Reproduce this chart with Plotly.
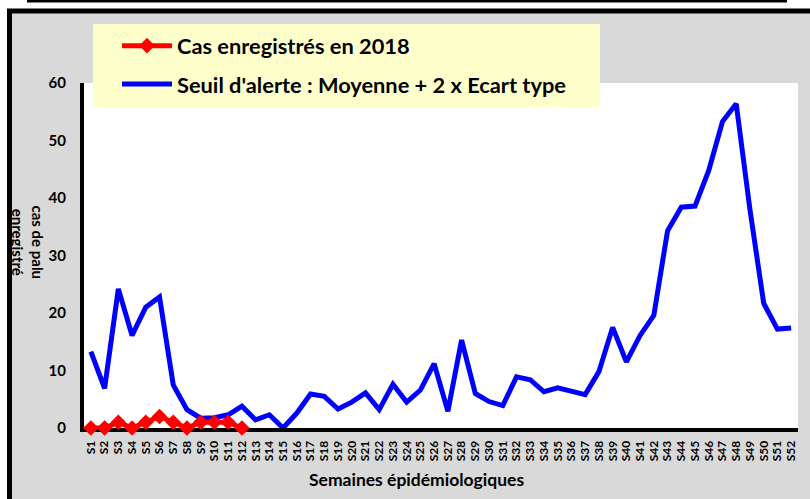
import plotly.graph_objects as go

weeks = [f"S{i}" for i in range(1, 53)]
seuil = [13.3, 6.9, 24.2, 16.1, 21.0, 22.8, 7.5, 3.2, 1.7, 1.8, 2.3, 3.8,
         1.4, 2.3, 0.0, 2.6, 5.9, 5.5, 3.3, 4.5, 6.1, 3.2, 7.6, 4.5, 6.6, 11.2,
         2.9, 15.3, 6.0, 4.6, 3.9, 8.9, 8.4, 6.3, 7.0, 6.3, 5.8, 9.8, 17.5, 11.5,
         16.1, 19.6, 34.3, 38.4, 38.6, 44.8, 53.3, 56.4, 38.0, 21.7, 17.2, 17.4]
cas_weeks = weeks[:12]
cas_2018 = [0, 0, 1, 0, 1, 2, 1, 0, 1, 1, 1, 0]
y_ticks = [0, 10, 20, 30, 40, 50, 60]

W, H = 810, 499
L, R, T, B = 84, 798, 83, 428
PW, PH = R - L, B - T

def xp(px):
    return (px - L) / PW

def yp(py):
    return (B - py) / PH

FONT = "Lato"

fig = go.Figure()
fig.add_trace(go.Scatter(
    x=weeks, y=seuil, mode="lines", name="Seuil d'alerte : Moyenne + 2 x Ecart type",
    line=dict(color="#0000ff", width=5), cliponaxis=False, legendgroup="b", legendrank=2))
fig.add_trace(go.Scatter(
    x=cas_weeks, y=cas_2018, mode="lines+markers", name="Cas enregistrés en 2018",
    line=dict(color="#ff0000", width=5), marker=dict(symbol="diamond", size=12, color="#ff0000"),
    cliponaxis=False, legendgroup="a", legendrank=1))

shapes = [
    dict(type="rect", xref="paper", yref="paper", x0=xp(9.5), x1=xp(830), y0=yp(11), y1=yp(520),
         fillcolor="#d9d9d9", line=dict(color="black", width=5), layer="below"),
    dict(type="rect", xref="paper", yref="paper", x0=xp(82), x1=xp(798), y0=yp(83), y1=yp(430),
         fillcolor="white", line=dict(width=0), layer="below"),
    dict(type="rect", xref="paper", yref="paper", x0=xp(93), x1=xp(600), y0=yp(24), y1=yp(107),
         fillcolor="#ffffcc", line=dict(width=0), layer="below"),
    dict(type="line", xref="paper", yref="paper", x0=xp(27), x1=xp(787), y0=yp(0.5), y1=yp(0.5),
         line=dict(color="black", width=4)),
]

fig.update_layout(
    width=W, height=H,
    margin=dict(l=L, r=W - R, t=T, b=H - B, autoexpand=False),
    paper_bgcolor="white", plot_bgcolor="rgba(0,0,0,0)",
    shapes=shapes,
    showlegend=True,
    legend=dict(x=xp(117), y=yp(25), xanchor="left", yanchor="top", bgcolor="rgba(0,0,0,0)",
                font=dict(family=FONT, size=21.8, color="black", weight="bold"),
                tracegroupgap=7, itemwidth=50),
    font=dict(family=FONT, color="black"),
    annotations=[
        dict(text="<b>cas de palu<br>enregistré</b>", xref="paper", yref="paper",
             x=xp(28), y=yp(242.5), textangle=90, showarrow=False,
             font=dict(family=FONT, size=15, color="black"), xanchor="center", yanchor="middle"),
        dict(text="<b>Semaines épidémiologiques</b>", xref="paper", yref="paper",
             x=xp(416), y=yp(479), showarrow=False,
             font=dict(family=FONT, size=17.5, color="black"), xanchor="center", yanchor="middle"),
    ],
)
fig.update_xaxes(
    type="category", categoryorder="array", categoryarray=weeks, range=[-0.5, 51.5],
    tickmode="array", tickvals=weeks, ticktext=weeks,
    showline=True, linewidth=4, linecolor="black", showgrid=False, zeroline=False,
    tickangle=-90, tickfont=dict(family=FONT, size=12, color="black", weight="bold"),
    ticks="outside", ticklen=4, tickcolor="rgba(0,0,0,0)", layer="below traces", automargin=False)
fig.update_yaxes(
    range=[0, 60], tickvals=y_ticks, showline=True, linewidth=4, linecolor="black",
    showgrid=False, zeroline=False, ticks="outside", ticklen=11, tickcolor="rgba(0,0,0,0)",
    tickfont=dict(family=FONT, size=15, color="black", weight="bold"), layer="below traces",
    automargin=False)

fig.write_html("out.html", config={"displayModeBar": False},
               post_script="document.body.style.margin='0';")
